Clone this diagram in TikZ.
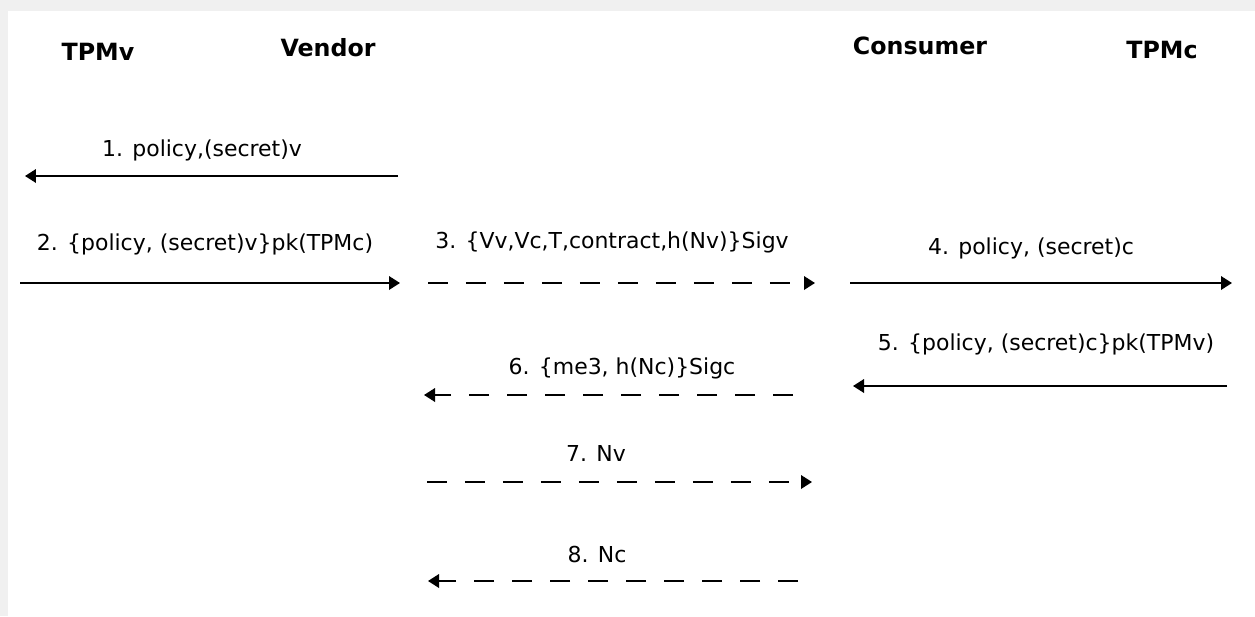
\documentclass[tikz,border=0pt]{standalone}
\usepackage{fontspec}
\setmainfont{DejaVu Sans}
\usetikzlibrary{arrows.meta}
\newlength{\du}
\setlength{\du}{0.02cm}

\begin{document}
\begin{tikzpicture}[
  actor/.style={font=\fontsize{13.5}{15}\selectfont\bfseries},
  msg/.style={font=\fontsize{12.5}{15}\selectfont},
  sync/.style={line width=0.038cm,-{Triangle[length=0.22cm,width=0.27cm]}},
  reply/.style={sync,dash pattern=on 0.4cm off 0.36cm}
]
\pgftransformxscale{1.000000}
\pgftransformyscale{-1.000000}
\useasboundingbox (0\du,0\du) rectangle (1255\du,616\du);
\fill[black!6] (0\du,0\du) rectangle (1255\du,616\du);
\fill[white] (8\du,11\du) rectangle (1255\du,616\du);
% actors
\node[actor] (tpmv) at (98\du,52\du){TPMv};
\node[actor] (vendor) at (328\du,48\du){Vendor};
\node[actor] (consumer) at (920\du,46\du){Consumer};
\node[actor] (tpmc) at (1162\du,50\du){TPMc};
% 1
\coordinate (m1a) at (398\du,176\du);
\coordinate (m1b) at (25\du,176\du);
\draw[sync] (m1a)--(m1b);
\node[msg] (l1) at (202\du,150\du){1. policy,(secret)v};
% 2
\coordinate (m2a) at (20\du,283\du);
\coordinate (m2b) at (400\du,283\du);
\draw[sync] (m2a)--(m2b);
\node[msg] (l2) at (205\du,244\du){2. \{policy, (secret)v\}pk(TPMc)};
% 3
\coordinate (m3a) at (428\du,283\du);
\coordinate (m3b) at (815\du,283\du);
\draw[reply] (m3a)--(m3b);
\node[msg] (l3) at (612\du,242\du){3. \{Vv,Vc,T,contract,h(Nv)\}Sigv};
% 4
\coordinate (m4a) at (850\du,283\du);
\coordinate (m4b) at (1232\du,283\du);
\draw[sync] (m4a)--(m4b);
\node[msg] (l4) at (1031\du,248\du){4. policy, (secret)c};
% 5
\coordinate (m5a) at (1227\du,386\du);
\coordinate (m5b) at (853\du,386\du);
\draw[sync] (m5a)--(m5b);
\node[msg] (l5) at (1046\du,344\du){5. \{policy, (secret)c\}pk(TPMv)};
% 6
\coordinate (m6a) at (793\du,395\du);
\coordinate (m6b) at (424\du,395\du);
\draw[reply] (m6a)--(m6b);
\node[msg] (l6) at (622\du,368\du){6. \{me3, h(Nc)\}Sigc};
% 7
\coordinate (m7a) at (427\du,482\du);
\coordinate (m7b) at (812\du,482\du);
\draw[reply] (m7a)--(m7b);
\node[msg] (l7) at (596\du,453\du){7. Nv};
% 8
\coordinate (m8a) at (798\du,581\du);
\coordinate (m8b) at (428\du,581\du);
\draw[reply] (m8a)--(m8b);
\node[msg] (l8) at (597\du,554\du){8. Nc};
\end{tikzpicture}
\end{document}
